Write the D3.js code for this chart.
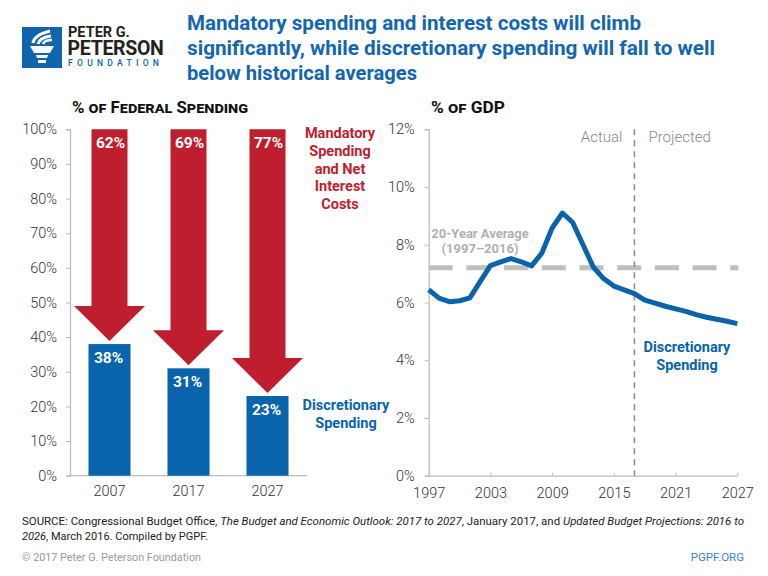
<!DOCTYPE html>
<html><head><meta charset="utf-8">
<script src="https://cdn.jsdelivr.net/npm/d3@7"></script>
<style>
body{margin:0;background:#fff;}
svg{display:block;font-family:Roboto,"Noto Sans",sans-serif;}
</style></head>
<body><svg id="c" width="768" height="576"></svg>
<script>
// ---- data ----
const barYears = ["2007","2017","2027"];
const mandatory = [62, 69, 77];
const discretionary = [38, 31, 23];
const leftTicks = [0,10,20,30,40,50,60,70,80,90,100];

const gdpYears = [1997,1998,1999,2000,2001,2002,2003,2004,2005,2006,2007,2008,2009,2010,2011,2012,2013,2014,2015,2016,2017,2018,2019,2020,2021,2022,2023,2024,2025,2026,2027];
const gdpValues = [6.44,6.15,6.03,6.06,6.16,6.72,7.28,7.41,7.52,7.41,7.27,7.71,8.58,9.10,8.77,8.00,7.23,6.83,6.57,6.44,6.31,6.08,5.98,5.87,5.78,5.69,5.58,5.49,5.42,5.35,5.27];
const average = 7.2;
const projectionStart = 2017;
const rightYTicks = [0,2,4,6,8,10,12];
const rightXTicks = [1997,2003,2009,2015,2021,2027];

const BLUE = "#0964ab", RED = "#be1e2d", TXT = "#333";
const svg = d3.select("#c");

// ---- header ----
const logo = svg.append("g");
logo.append("rect").attr("x",22).attr("y",27).attr("width",40).attr("height",41).attr("fill","#1065ad");
logo.append("path").attr("d","M30,46 L54,46 L50,53 L34,53 Z").attr("fill","#fff");
logo.append("path").attr("d","M36,55 L48,55 L47,58 L37,58 Z").attr("fill","#fff");
logo.append("path").attr("d","M38,60 L46,60 L46,63 L38,63 Z").attr("fill","#fff");
logo.append("path").attr("d","M33,43 C34,36 42,33 50,31").attr("stroke","#fff").attr("stroke-width",3).attr("fill","none");
logo.append("path").attr("d","M38,44 C39,39 45,37 51,36").attr("stroke","#fff").attr("stroke-width",3).attr("fill","none");
logo.append("path").attr("d","M43,44 C44,41 48,40 52,40").attr("stroke","#fff").attr("stroke-width",2.5).attr("fill","none");
const logoText = logo.append("text").attr("font-weight",700).attr("fill","#222");
logoText.append("tspan").attr("x",68).attr("y",36.5).attr("font-size",14.5).text("PETER G.");
logoText.append("tspan").attr("x",67.5).attr("y",55).attr("font-size",19.5).attr("letter-spacing",-0.3).text("PETERSON");
logoText.append("tspan").attr("x",68).attr("y",66).attr("font-size",8.5).attr("font-weight",500)
  .attr("fill",BLUE).attr("letter-spacing",4.3).text("FOUNDATION");

const titleLines = ["Mandatory spending and interest costs will climb","significantly, while discretionary spending will fall to well","below historical averages"];
const titleW = [454, 528, 230];
titleLines.forEach((t,i)=>{
  svg.append("text").attr("x",187).attr("y",30+i*25).attr("font-size",20.5).attr("font-weight",700)
    .attr("fill","#1466ae").attr("textLength",titleW[i]).attr("lengthAdjust","spacingAndGlyphs").text(t);
});

// ---- left chart ----
const yL = d3.scaleLinear().domain([0,100]).range([475.7,129.3]);
const xL = d3.scaleBand().domain(barYears).range([70,307]).paddingInner(0.468).paddingOuter(0.234);

svg.append("text").attr("x",72).attr("y",113).attr("font-size",16).attr("font-weight",700).attr("fill","#111")
  .style("font-variant","small-caps").attr("textLength",176).attr("lengthAdjust","spacingAndGlyphs").text("% of Federal Spending");

const axL = svg.append("g").attr("transform","translate(70,0)")
  .call(d3.axisLeft(yL).tickValues(leftTicks).tickFormat(d=>d+"%").tickSize(4).tickPadding(9));
axL.select(".domain").attr("stroke","#bbb").attr("stroke-width",1.2);
axL.selectAll(".tick line").attr("stroke","#bbb");
axL.selectAll(".tick text").attr("font-size",14.5).attr("fill",TXT).attr("font-family","Roboto").attr("font-weight",300);

svg.append("line").attr("x1",70).attr("x2",307).attr("y1",yL(0)).attr("y2",yL(0)).attr("stroke","#bbb").attr("stroke-width",1.2);
const axLX = svg.append("g").attr("transform",`translate(0,${yL(0)})`)
  .call(d3.axisBottom(xL).tickSize(0).tickPadding(10));
axLX.select(".domain").remove();
axLX.selectAll(".tick text").attr("font-size",14.5).attr("fill",TXT).attr("font-weight",300).attr("font-family","Roboto");

barYears.forEach((yr,i)=>{
  const cx = xL(yr)+xL.bandwidth()/2;
  svg.append("rect").attr("x",xL(yr)).attr("width",xL.bandwidth())
    .attr("y",yL(discretionary[i])).attr("height",yL(0)-yL(discretionary[i])).attr("fill",BLUE);
  const top = yL(100), tip = yL(100-mandatory[i])-3, headH = 35, sw = 18, hw = 35.5;
  svg.append("path").attr("fill",RED).attr("d",
    `M${cx-sw},${top} L${cx+sw},${top} L${cx+sw},${tip-headH} L${cx+hw},${tip-headH} L${cx},${tip} L${cx-hw},${tip-headH} L${cx-sw},${tip-headH} Z`);
  svg.append("text").attr("x",cx+1).attr("y",top+18.5).attr("text-anchor","middle").attr("font-size",15.5)
    .attr("font-weight",700).attr("fill","#fff").text(mandatory[i]+"%");
  svg.append("text").attr("x",cx-1).attr("y",yL(discretionary[i])+19).attr("text-anchor","middle").attr("font-size",15.5)
    .attr("font-weight",700).attr("fill","#fff").text(discretionary[i]+"%");
});

["Mandatory","Spending","and Net","Interest","Costs"].forEach((t,i)=>{
  svg.append("text").attr("x",340).attr("y",138+i*17.8).attr("text-anchor","middle").attr("font-size",14.5)
    .attr("font-weight",700).attr("fill",RED).text(t);
});
["Discretionary","Spending"].forEach((t,i)=>{
  svg.append("text").attr("x",346).attr("y",410+i*18).attr("text-anchor","middle").attr("font-size",14.5)
    .attr("font-weight",700).attr("fill",BLUE).text(t);
});

// ---- right chart ----
const xR = d3.scaleLinear().domain([1997,2027]).range([428.7,737.3]);
const yR = d3.scaleLinear().domain([0,12]).range([475.7,129.3]);

svg.append("text").attr("x",431).attr("y",113).attr("font-size",16).attr("font-weight",700).attr("fill","#111")
  .style("font-variant","small-caps").attr("textLength",74).attr("lengthAdjust","spacingAndGlyphs").text("% of GDP");

const axR = svg.append("g").attr("transform",`translate(${xR(1997)},0)`)
  .call(d3.axisLeft(yR).tickValues(rightYTicks).tickFormat(d=>d+"%").tickSize(4).tickPadding(10));
axR.select(".domain").attr("stroke","#bbb").attr("stroke-width",1.2);
axR.selectAll(".tick line").attr("stroke","#bbb");
axR.selectAll(".tick text").attr("font-size",14.5).attr("fill",TXT).attr("font-weight",300).attr("font-family","Roboto");

const axRX = svg.append("g").attr("transform",`translate(0,${yR(0)})`)
  .call(d3.axisBottom(xR).tickValues(rightXTicks).tickFormat(d3.format("d")).tickSizeInner(-3).tickSizeOuter(0).tickPadding(12));
axRX.select(".domain").attr("stroke","#bbb").attr("stroke-width",1.2);
axRX.selectAll(".tick line").attr("stroke","#bbb");
axRX.selectAll(".tick text").attr("font-size",14.5).attr("fill",TXT).attr("font-weight",300).attr("font-family","Roboto");

svg.append("line").attr("x1",xR(1997)).attr("x2",xR(2027)+1).attr("y1",yR(average)).attr("y2",yR(average))
  .attr("stroke","#bfbfbf").attr("stroke-width",5).attr("stroke-dasharray","24,13.7");
svg.append("text").attr("x",480).attr("y",238).attr("text-anchor","middle").attr("font-size",13).attr("font-weight",700)
  .attr("fill","#b0b0b0").text("20-Year Average");
svg.append("text").attr("x",480).attr("y",253).attr("text-anchor","middle").attr("font-size",13).attr("font-weight",700)
  .attr("fill","#b0b0b0").text("(1997–2016)");

svg.append("line").attr("x1",xR(projectionStart)).attr("x2",xR(projectionStart)).attr("y1",yR(12)).attr("y2",yR(0))
  .attr("stroke","#8a8a8a").attr("stroke-width",1.5).attr("stroke-dasharray","6,5");
svg.append("text").attr("x",xR(projectionStart)-12).attr("y",142).attr("text-anchor","end").attr("font-size",15)
  .attr("font-weight",300).attr("fill","#888").text("Actual");
svg.append("text").attr("x",xR(projectionStart)+14).attr("y",142).attr("text-anchor","start").attr("font-size",15)
  .attr("font-weight",300).attr("fill","#888").text("Projected");

const line = d3.line().x((d,i)=>xR(gdpYears[i])).y(d=>yR(d));
svg.append("path").datum(gdpValues).attr("d",line).attr("fill","none").attr("stroke","#0b63ab")
  .attr("stroke-width",5).attr("stroke-linejoin","round");

["Discretionary","Spending"].forEach((t,i)=>{
  svg.append("text").attr("x",687).attr("y",352+i*18).attr("text-anchor","middle").attr("font-size",14.5)
    .attr("font-weight",700).attr("fill",BLUE).text(t);
});

// ---- footer ----
const src1 = svg.append("text").attr("x",22).attr("y",525).attr("font-size",11).attr("fill","#222")
  .attr("textLength",722).attr("lengthAdjust","spacingAndGlyphs");
src1.append("tspan").text("SOURCE: Congressional Budget Office, ");
src1.append("tspan").attr("font-style","italic").text("The Budget and Economic Outlook: 2017 to 2027");
src1.append("tspan").text(", January 2017, and ");
src1.append("tspan").attr("font-style","italic").text("Updated Budget Projections: 2016 to");
const src2 = svg.append("text").attr("x",22).attr("y",540).attr("font-size",11).attr("fill","#222")
  .attr("textLength",186).attr("lengthAdjust","spacingAndGlyphs");
src2.append("tspan").attr("font-style","italic").text("2026");
src2.append("tspan").text(", March 2016. Compiled by PGPF.");
svg.append("text").attr("x",22).attr("y",561).attr("font-size",11).attr("fill","#999")
  .attr("textLength",179).attr("lengthAdjust","spacingAndGlyphs").text("© 2017 Peter G. Peterson Foundation");
svg.append("text").attr("x",744).attr("y",561).attr("text-anchor","end").attr("font-size",11.5).attr("fill","#3a86c0")
  .text("PGPF.ORG");
</script></body></html>
